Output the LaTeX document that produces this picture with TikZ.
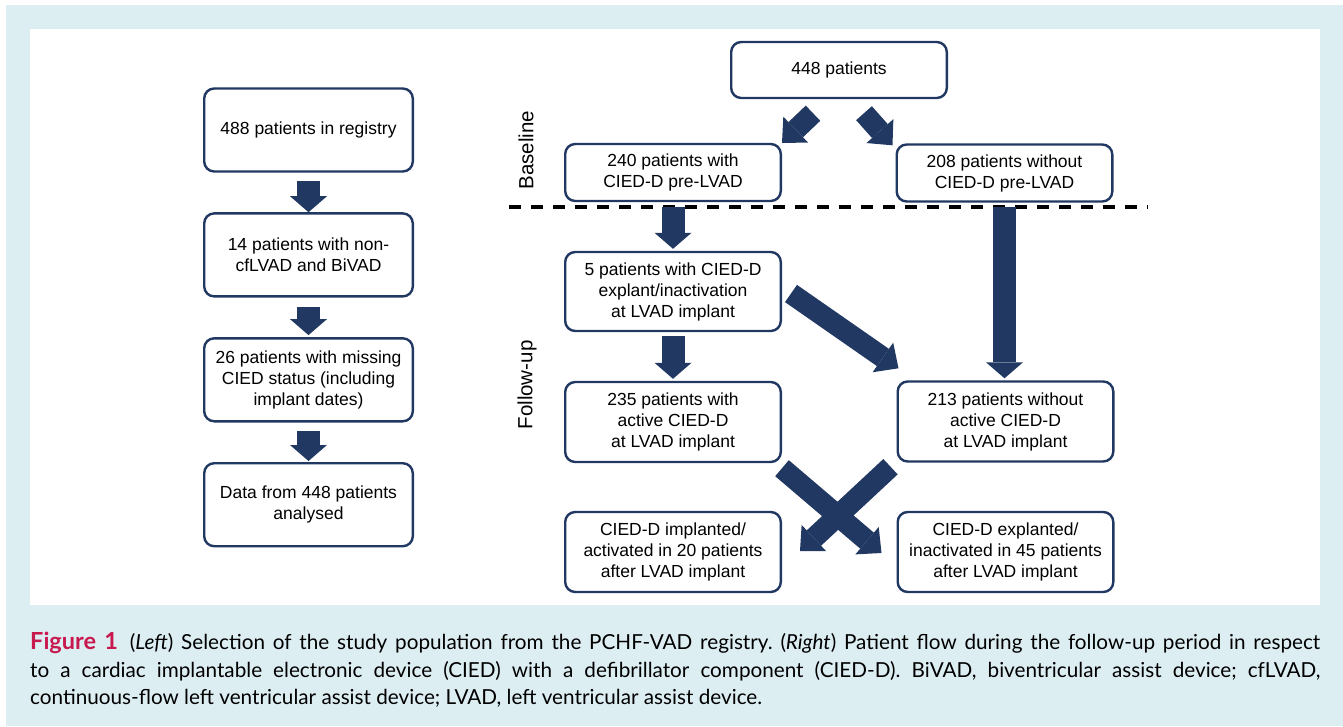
\documentclass[tikz,border=0pt]{standalone}
\usepackage{fontspec}
\setmainfont{Liberation Sans}
\newfontfamily\capfont{Lato}
\usetikzlibrary{arrows.meta,positioning}
\definecolor{Navy}{HTML}{213862}
\definecolor{Frame}{HTML}{DDEEF3}
\definecolor{FigRed}{HTML}{C8194F}

\begin{document}
\begin{tikzpicture}[
  x=1pt,y=-1pt,
  box/.style={draw=Navy,line width=2.4pt,rounded corners=10pt,fill=white,align=center,inner sep=2pt,font=\fontsize{17.5}{21}\selectfont},
  leftbox/.style={box,minimum width=208.6pt,minimum height=83pt},
  rightbox/.style={box,minimum width=215.6pt},
  fat/.style={Navy,line width=23pt,-{Triangle[width=37pt,length=16pt,line width=0pt]}},
  slant/.style={Navy,line width=21pt,-{Triangle[width=36pt,length=19pt,line width=0pt]}},
  phase/.style={rotate=90,font=\fontsize{20.5}{24}\selectfont}
]
  \useasboundingbox (0,0) rectangle (1343,726);
  \fill[Frame] (6,5) rectangle (1343,726);
  \fill[white] (30,29) rectangle (1320,605);

  \node[leftbox] (reg) at (308.5,130) {488 patients in registry};
  \node[leftbox,below=39.5pt of reg] (excl) {14 patients with non-\\cfLVAD and BiVAD};
  \node[leftbox,below=39.5pt of excl] (miss) {26 patients with missing\\CIED status (including\\implant dates)};
  \node[leftbox,below=39.5pt of miss] (data) {Data from 448 patients\\analysed};
  \draw[fat,shorten <=8pt] (reg) -- (excl);
  \draw[fat,shorten <=9pt,shorten >=2pt] (excl) -- (miss);
  \draw[fat,shorten <=8pt,shorten >=1pt] (miss) -- (data);

  \node[rightbox,minimum height=56pt] (top) at (839,70) {448 patients};
  \node[rightbox,minimum height=57pt] (with) at (673,172.5) {240 patients with\\CIED-D pre-LVAD};
  \node[rightbox,minimum height=57pt] (without) at (1004.5,173) {208 patients without\\CIED-D pre-LVAD};
  \node[rightbox,minimum height=79pt] (expl) at (673,291.5) {5 patients with CIED-D\\explant/inactivation\\at LVAD implant};
  \node[rightbox,minimum height=80pt] (act) at (673,422) {235 patients with\\active CIED-D\\at LVAD implant};
  \node[rightbox,minimum height=80pt] (noact) at (1005.5,421.5) {213 patients without\\active CIED-D\\at LVAD implant};
  \node[rightbox,minimum height=80pt] (impl) at (673,552) {CIED-D implanted/\\activated in 20 patients\\after LVAD implant};
  \node[rightbox,minimum height=80pt] (expd) at (1005.5,552) {CIED-D explanted/\\inactivated in 45 patients\\after LVAD implant};

  \node[phase] (base) at (526,150) {Baseline};
  \node[phase] (follow) at (527,385) {Follow-up};
  \coordinate (divL) at (509,207);
  \coordinate (divR) at (1148,207);
  \draw[black,line width=3.4pt,dash pattern=on 12pt off 10pt] (divL) -- (divR);

  \draw[slant] ([shift={(-26,14)}]top.south) -- (with.north east);
  \draw[slant] ([shift={(25,14)}]top.south) -- ([shift={(-3,2)}]without.north west);
  \draw[fat,shorten <=5pt,shorten >=2pt] (with) -- (expl);
  \draw[fat,shorten <=4pt,shorten >=2pt] (expl) -- (act);
  \draw[fat,shorten <=4pt,shorten >=2pt] (without.south) -- (without.south |- noact.north);
  \draw[slant] ([shift={(9,2)}]expl.east) -- ([shift={(2,-12)}]noact.north west);
  \draw[slant] ([shift={(0,5)}]act.south east) -- ([shift={(-15,1)}]expd.west);
  \draw[slant] ([shift={(-6,4)}]noact.south west) -- ([shift={(18,-1)}]impl.east);

  \node[anchor=north west,text width=1290pt,align=justify,inner sep=0pt,font=\capfont\fontsize{20.7}{27.5}\selectfont\frenchspacing] (cap) at (30,632)
    {\textcolor{FigRed}{\fontsize{23.5}{27.5}\selectfont\textbf{Figure 1}}\hspace{4pt} (\textit{Left}) Selection of the study population from the PCHF-VAD registry. (\textit{Right}) Patient flow during the follow-up period in respect\linebreak to a cardiac implantable electronic device (CIED) with a defibrillator component (CIED-D). BiVAD, biventricular assist device; cfLVAD,\linebreak continuous-flow left ventricular assist device; LVAD, left ventricular assist device.};
\end{tikzpicture}
\end{document}
